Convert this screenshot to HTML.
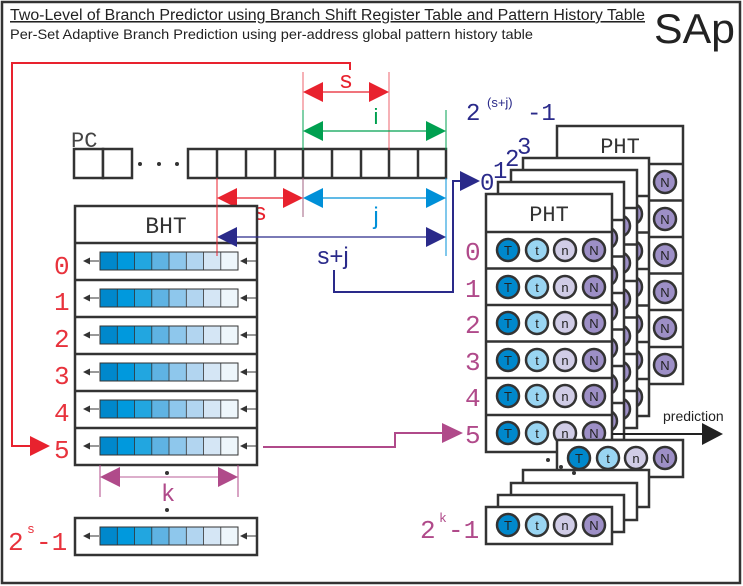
<!DOCTYPE html>
<html><head><meta charset="utf-8"><style>
html,body{margin:0;padding:0;background:#fff}
svg{display:block}
.m{font-family:"Liberation Mono",monospace}
.s{font-family:"Liberation Sans",sans-serif}
</style></head><body>
<svg width="743" height="586" viewBox="0 0 743 586" xmlns="http://www.w3.org/2000/svg">
<defs>
<marker id="ar" viewBox="0 0 10 10" refX="10" refY="5" markerWidth="5" markerHeight="5" orient="auto-start-reverse" markerUnits="userSpaceOnUse"><path d="M0,0L10,5L0,10z" fill="#333"/></marker>
<g id="sr">
<rect x="100" y="-9" width="17.3" height="18" fill="#0088cc"/>
<rect x="117.3" y="-9" width="17.3" height="18" fill="#0099dd"/>
<rect x="134.5" y="-9" width="17.3" height="18" fill="#22a6e0"/>
<rect x="151.8" y="-9" width="17.3" height="18" fill="#5fb3e3"/>
<rect x="169" y="-9" width="17.3" height="18" fill="#8ec7ec"/>
<rect x="186.3" y="-9" width="17.3" height="18" fill="#b2d5f0"/>
<rect x="203.5" y="-9" width="17.3" height="18" fill="#d5e6f5"/>
<rect x="220.8" y="-9" width="17.2" height="18" fill="#eef6fb"/>
<path d="M117.3-9v18M134.5-9v18M151.8-9v18M169-9v18M186.3-9v18M203.5-9v18M220.8-9v18" stroke="#333" stroke-width="0.8"/>
<rect x="100" y="-9" width="138" height="18" fill="none" stroke="#333" stroke-width="1"/>
<path d="M99,0H84" stroke="#333" stroke-width="1"/><path d="M83,0l7,-3.5v7z" fill="#333"/>
<path d="M257,0H241" stroke="#333" stroke-width="1"/><path d="M240,0l7,-3.5v7z" fill="#333"/>
</g>
<g id="cr">
<circle cx="22" cy="0" r="11" fill="#0088cc" stroke="#333" stroke-width="2.5"/>
<circle cx="51" cy="0" r="11" fill="#99d5f2" stroke="#333" stroke-width="2.5"/>
<circle cx="79" cy="0" r="11" fill="#d0cce6" stroke="#333" stroke-width="2.5"/>
<circle cx="108" cy="0" r="11" fill="#9d8fc6" stroke="#333" stroke-width="2.5"/>
<g class="s" font-size="13" fill="#222" text-anchor="middle"><text x="22" y="5">T</text><text x="51" y="5">t</text><text x="79" y="5">n</text><text x="108" y="5">N</text></g>
</g>
<g id="pht">
<rect x="0" y="0" width="126" height="258" fill="#fff" stroke="#333" stroke-width="2.5"/>
<path d="M0,38H126M0,74.5H126M0,111H126M0,147.5H126M0,184H126M0,221H126" stroke="#333" stroke-width="2.5"/>
<use href="#cr" x="0" y="56"/><use href="#cr" x="0" y="93"/><use href="#cr" x="0" y="129"/><use href="#cr" x="0" y="166"/><use href="#cr" x="0" y="202"/><use href="#cr" x="0" y="239"/>
<text class="m" x="63" y="27" font-size="22" text-anchor="middle" fill="#333">PHT</text>
</g>
</defs>
<rect x="2" y="2" width="738" height="581" fill="none" stroke="#333" stroke-width="2.5"/>
<text class="s" x="10" y="20" font-size="15.5" textLength="635" lengthAdjust="spacingAndGlyphs" fill="#222" text-decoration="underline">Two-Level of Branch Predictor using Branch Shift Register Table and Pattern History Table</text>
<text class="s" x="10" y="39" font-size="14" textLength="523" lengthAdjust="spacingAndGlyphs" fill="#222">Per-Set Adaptive Branch Prediction using per-address global pattern history table</text>
<text class="s" x="654" y="43" font-size="42" textLength="81" lengthAdjust="spacingAndGlyphs" fill="#222">SAp</text>

<!-- red feedback -->
<path d="M350,70V63H12V446H32" fill="none" stroke="#e8222e" stroke-width="2"/>
<path d="M30,436L50,446L30,456z" fill="#e8222e"/>

<!-- PC -->
<text class="m" x="71" y="147" font-size="22" fill="#444">PC</text>
<rect x="74" y="149" width="29" height="29" fill="#fff" stroke="#333" stroke-width="2.5"/>
<rect x="103" y="149" width="29" height="29" fill="#fff" stroke="#333" stroke-width="2.5"/>
<circle cx="140" cy="164" r="2" fill="#333"/><circle cx="159" cy="164" r="2" fill="#333"/><circle cx="177" cy="164" r="2" fill="#333"/>
<g fill="#fff" stroke="#333" stroke-width="2.5">
<rect x="188" y="149" width="258" height="29"/>
</g>
<path d="M217,149v29M246,149v29M275,149v29M303,149v29M332,149v29M361,149v29M389,149v29M418,149v29" stroke="#333" stroke-width="2.5"/>

<!-- top s -->
<path d="M303,72V150M389,72V150" stroke="#e8222e" stroke-width="1" opacity="0.7"/>
<path d="M320,92H372" stroke="#e8222e" stroke-width="1.2"/>
<path d="M303,92l20,-10v20zM389,92l-20,-10v20z" fill="#e8222e"/>
<text class="s" x="346" y="88" font-size="24" fill="#e8222e" text-anchor="middle">s</text>
<!-- i -->
<path d="M303,110V150M446,110V150" stroke="#00a050" stroke-width="1"/>
<path d="M320,131H430" stroke="#00a050" stroke-width="1.2"/>
<path d="M303,131l20,-10v20zM446,131l-20,-10v20z" fill="#00a050"/>
<text class="s" x="376" y="124" font-size="22" fill="#00a050" text-anchor="middle">i</text>

<!-- below PC -->
<path d="M217,178V256" stroke="#e8222e" stroke-width="1"/>
<path d="M303,178V217" stroke="#a06080" stroke-width="1"/>
<path d="M446,178V256" stroke="#0090d8" stroke-width="1"/>
<path d="M235,198H290" stroke="#e8222e" stroke-width="1.2"/>
<path d="M217,198l20,-10v20zM303,198l-20,-10v20z" fill="#e8222e"/>
<text class="s" x="260" y="220" font-size="24" fill="#e8222e" text-anchor="middle">s</text>
<path d="M320,198H430" stroke="#0090d8" stroke-width="1.2"/>
<path d="M303,198l20,-10v20zM446,198l-20,-10v20z" fill="#0090d8"/>
<text class="s" x="376" y="224" font-size="24" fill="#0090d8" text-anchor="middle">j</text>

<!-- BHT -->
<rect x="75" y="206" width="182" height="349" fill="none" stroke="none"/>
<rect x="75" y="206" width="182" height="259" fill="#fff" stroke="#333" stroke-width="2.5"/>
<path d="M75,243H257M75,280H257M75,317H257M75,354H257M75,391H257M75,428H257" stroke="#333" stroke-width="2.5"/>
<text class="m" x="166" y="233" font-size="23" fill="#333" text-anchor="middle">BHT</text>
<use href="#sr" y="261"/><use href="#sr" y="298"/><use href="#sr" y="335"/><use href="#sr" y="372"/><use href="#sr" y="409"/><use href="#sr" y="446"/>
<path d="M217,178V256" stroke="#e8222e" stroke-width="1"/>
<!-- s+j -->
<path d="M235,237H430" stroke="#2a2a8a" stroke-width="1.2"/>
<path d="M217,237l20,-10v20zM446,237l-20,-10v20z" fill="#2a2a8a"/>
<text class="s" x="333" y="264" font-size="24" fill="#2a2a8a" text-anchor="middle">s+j</text>
<path d="M334,270V292H453V181H465" fill="none" stroke="#2a2a8a" stroke-width="2"/>
<path d="M460,171L480,181L460,191z" fill="#2a2a8a"/>

<g class="m" font-size="26" fill="#e8323c">
<text x="54" y="274">0</text><text x="54" y="310">1</text><text x="54" y="347">2</text><text x="54" y="384">3</text><text x="54" y="421">4</text><text x="54" y="458">5</text>
</g>
<!-- k -->
<path d="M100,465V497M238,465V497" stroke="#b04a8a" stroke-width="1"/>
<path d="M118,477H220" stroke="#b04a8a" stroke-width="1.2" opacity="0.7"/>
<path d="M100,477l20,-10v20zM238,477l-20,-10v20z" fill="#b04a8a"/>
<text class="s" x="168" y="501" font-size="24" fill="#b04a8a" text-anchor="middle">k</text>
<circle cx="167" cy="473" r="2" fill="#333"/><circle cx="167" cy="510" r="2" fill="#333"/>
<rect x="75" y="518" width="182" height="37" fill="#fff" stroke="#333" stroke-width="2.5"/>
<use href="#sr" y="536"/>
<text class="m" x="8" y="550" font-size="26" fill="#e8323c">2</text>
<text class="m" x="27" y="533" font-size="13" fill="#e8323c">s</text>
<text class="m" x="36" y="550" font-size="26" fill="#e8323c">-1</text>

<!-- magenta -->
<path d="M263,447H395V433H445" fill="none" stroke="#b04a8a" stroke-width="2"/>
<path d="M442,423L463,433L442,443z" fill="#b04a8a"/>

<!-- PHT stacks -->
<text class="m" x="466" y="120" font-size="24" fill="#2a2a8a">2</text>
<text class="s" x="487" y="107" font-size="13" fill="#2a2a8a">(s+j)</text>
<text class="m" x="527" y="120" font-size="24" fill="#2a2a8a">-1</text>
<use href="#pht" x="557" y="126"/>
<use href="#pht" x="523" y="158"/>
<use href="#pht" x="511" y="170"/>
<use href="#pht" x="498" y="182"/>
<use href="#pht" x="486" y="194"/>
<g class="m" font-size="24" fill="#2a2a8a">
<text x="480" y="190">0</text><text x="493" y="178">1</text><text x="505" y="166">2</text><text x="517" y="154">3</text>
</g>
<g class="m" font-size="26" fill="#b04a8a">
<text x="465" y="260">0</text><text x="465" y="297">1</text><text x="465" y="333">2</text><text x="465" y="370">3</text><text x="465" y="406">4</text><text x="465" y="443">5</text>
</g>
<!-- prediction -->
<path d="M612,434H705" stroke="#222" stroke-width="2"/>
<path d="M702,423L723,434L702,445z" fill="#222"/>
<text class="s" x="663" y="421" font-size="14" fill="#222">prediction</text>

<!-- bottom stack -->
<rect x="557" y="440" width="126" height="37" fill="#fff" stroke="#333" stroke-width="2.5"/>
<use href="#cr" x="557" y="458"/>
<rect x="523" y="470" width="126" height="37" fill="#fff" stroke="#333" stroke-width="2.5"/>
<rect x="511" y="483" width="126" height="37" fill="#fff" stroke="#333" stroke-width="2.5"/>
<rect x="498" y="495" width="126" height="37" fill="#fff" stroke="#333" stroke-width="2.5"/>
<rect x="486" y="507" width="126" height="37" fill="#fff" stroke="#333" stroke-width="2.5"/>
<use href="#cr" x="486" y="525"/>
<circle cx="548" cy="460" r="2" fill="#333"/><circle cx="561" cy="467" r="2" fill="#333"/><circle cx="574" cy="473" r="2" fill="#333"/>
<text class="m" x="420" y="538" font-size="26" fill="#b04a8a">2</text>
<text class="m" x="439" y="522" font-size="13" fill="#b04a8a">k</text>
<text class="m" x="448" y="538" font-size="26" fill="#b04a8a">-1</text>
</svg>
</body></html>
